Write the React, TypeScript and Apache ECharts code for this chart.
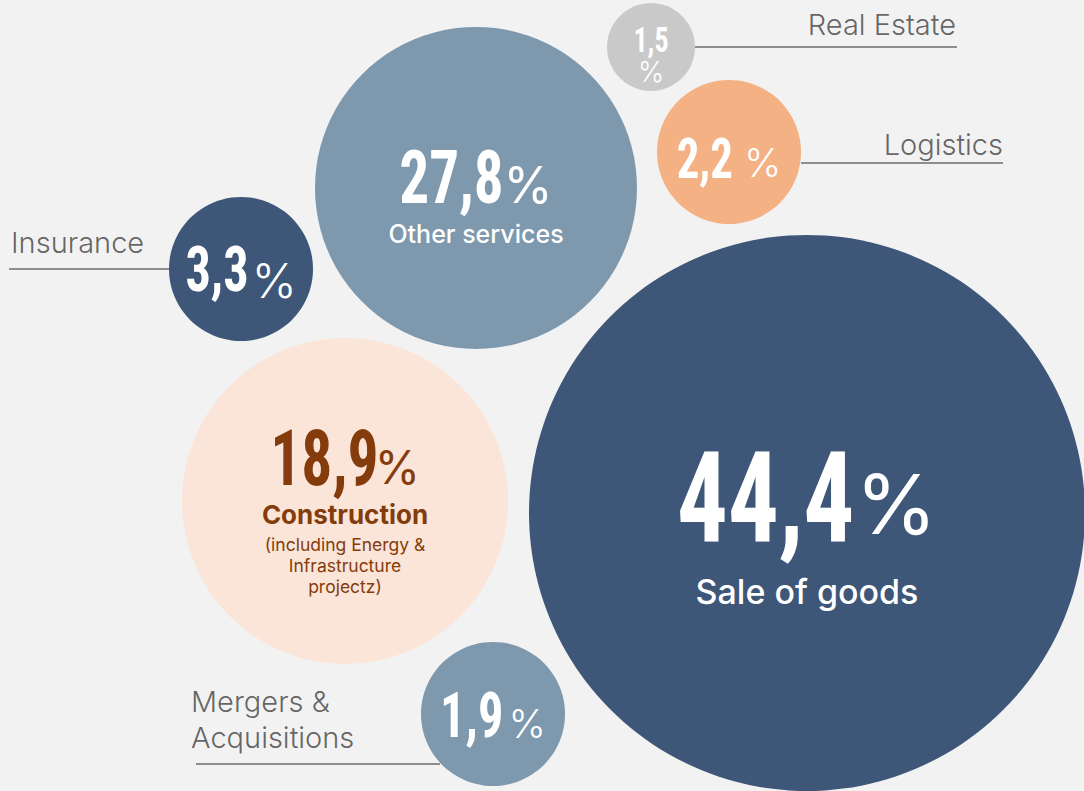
import React, { useEffect, useRef } from "react";
import * as echarts from "echarts";

// ---- data ----
const sectors = ["Sale of goods", "Other services", "Construction", "Insurance", "Logistics", "Real Estate", "Mergers & Acquisitions"];
const shares = [44.4, 27.8, 18.9, 3.3, 2.2, 1.5, 1.9];
const bubbleX = [807, 476, 345, 241, 729, 651, 493];
const bubbleY = [513, 188, 501, 269, 152, 47, 714];
const bubbleDiameter = [556, 322, 326, 144, 144, 88, 144];
const bubbleColors = ["#3E5779", "#7E98AE", "#FBE5D8", "#3E5779", "#F4B183", "#C9C9C9", "#7E98AE"];

// leader lines
const leaderStartX = [695, 801, 9, 196];
const leaderEndX = [957, 1003, 169, 440];
const leaderY = [47, 163, 269, 764];

// outer labels
const outerLabels = ["Real Estate", "Logistics", "Insurance", "Mergers &\nAcquisitions"];
const outerLabelX = [956, 1003, 11, 191];
const outerLabelY = [24, 144, 242, 719];
const outerLabelAlign = ["right", "right", "left", "left"];

// inner sub-captions
const constructionNote = ["(including Energy &", "Infrastructure", "projectz)"];

const NUM_FONT = '"Roboto Condensed"';
const TXT_FONT = "Inter";
const NUM_SCALE = 0.8;

const fmt = (v: number) => v.toFixed(1).replace(".", ",");

const measure = (text: string, font: string) => {
  const t = new (echarts.graphic as any).Text({ style: { text, font } });
  return t.getBoundingRect().width;
};

type Spec = {
  color: string;
  num: number; numDy: number;
  pct: number; pctDy: number; pctWeight: number; gap: number; stacked?: boolean;
  lines: { text: string; size: number; weight: number; dy: number }[];
};

const specs: Spec[] = [
  { color: "#fff", num: 126, numDy: -15, pct: 83, pctDy: -9, pctWeight: 400, gap: 1,
    lines: [{ text: sectors[0], size: 34, weight: 500, dy: 78 }] },
  { color: "#fff", num: 74, numDy: -10, pct: 50, pctDy: -3, pctWeight: 400, gap: 0,
    lines: [{ text: sectors[1], size: 25, weight: 500, dy: 46 }] },
  { color: "#843C0C", num: 77, numDy: -43, pct: 46, pctDy: -34, pctWeight: 400, gap: -4,
    lines: [
      { text: sectors[2], size: 26, weight: 700, dy: 13 },
      { text: constructionNote[0], size: 17.5, weight: 400, dy: 43 },
      { text: constructionNote[1], size: 17.5, weight: 400, dy: 64 },
      { text: constructionNote[2], size: 17.5, weight: 400, dy: 85 },
    ] },
  { color: "#fff", num: 63, numDy: 0, pct: 48, pctDy: 11, pctWeight: 300, gap: 3, lines: [] },
  { color: "#fff", num: 56, numDy: 7, pct: 40, pctDy: 10, pctWeight: 300, gap: 11, lines: [] },
  { color: "#fff", num: 35, numDy: -7, pct: 28, pctDy: 25, pctWeight: 300, gap: 0, stacked: true, lines: [] },
  { color: "#fff", num: 63, numDy: 1, pct: 40, pctDy: 9, pctWeight: 300, gap: 5, lines: [] },
];

export default function App() {
  const ref = useRef<HTMLDivElement>(null);
  useEffect(() => {
    document.body.style.margin = "0";
    const chart = echarts.init(ref.current!, undefined, { renderer: "svg" });

    const bubbleData = sectors.map((name, i) => ({
      name,
      value: [bubbleX[i], bubbleY[i], shares[i]],
      symbolSize: bubbleDiameter[i],
      itemStyle: { color: bubbleColors[i], opacity: 1 },
    }));

    const leaderData = leaderY.map((y, i) => ({
      coords: [
        [leaderStartX[i], y],
        [leaderEndX[i], y],
      ],
    }));

    const outerData = outerLabels.map((t, i) => ({
      name: t,
      value: [outerLabelX[i], outerLabelY[i]],
      label: {
        show: true,
        position: [0, 0],
        align: outerLabelAlign[i],
        verticalAlign: "middle",
        formatter: t,
        fontFamily: TXT_FONT,
        fontWeight: 300,
        fontSize: 29,
        lineHeight: 36,
        color: "#3f3f3f",
      },
    }));

    const renderItem = (params: any, api: any) => {
      const i = params.dataIndex;
      const s = specs[i];
      const [cx, cy] = api.coord([api.value(0), api.value(1)]);
      const numText = fmt(api.value(2));
      const numFont = `bold ${s.num}px ${NUM_FONT}`;
      const pctFont = `${s.pctWeight} ${s.pct}px ${TXT_FONT}`;
      const wNum = measure(numText, numFont) * NUM_SCALE;
      const wPct = measure("%", pctFont);
      const children: any[] = [];
      if (s.stacked) {
        children.push({
          type: "text", x: cx - wNum / 2, y: cy + s.numDy, scaleX: NUM_SCALE,
          style: { text: numText, font: numFont, fill: s.color, align: "left", verticalAlign: "middle" },
        });
        children.push({
          type: "text", x: cx, y: cy + s.pctDy,
          style: { text: "%", font: pctFont, fill: s.color, align: "center", verticalAlign: "middle" },
        });
      } else {
        const total = wNum + s.gap + wPct;
        const x0 = cx - total / 2;
        children.push({
          type: "text", x: x0, y: cy + s.numDy, scaleX: NUM_SCALE,
          style: { text: numText, font: numFont, fill: s.color, align: "left", verticalAlign: "middle" },
        });
        children.push({
          type: "text", x: x0 + wNum + s.gap, y: cy + s.pctDy,
          style: { text: "%", font: pctFont, fill: s.color, align: "left", verticalAlign: "middle" },
        });
      }
      s.lines.forEach((l) => {
        children.push({
          type: "text", x: cx, y: cy + l.dy,
          style: { text: l.text, font: `${l.weight} ${l.size}px ${TXT_FONT}`, fill: s.color, align: "center", verticalAlign: "middle" },
        });
      });
      return { type: "group", children };
    };

    chart.setOption({
      animation: false,
      backgroundColor: "#F2F2F2",
      grid: { left: 0, right: 0, top: 0, bottom: 0 },
      xAxis: { type: "value", min: 0, max: 1084, show: false },
      yAxis: { type: "value", min: 0, max: 791, inverse: true, show: false },
      series: [
        {
          type: "lines",
          coordinateSystem: "cartesian2d",
          z: 1,
          lineStyle: { color: "#8E8E8E", width: 2, opacity: 1 },
          data: leaderData,
          silent: true,
        },
        {
          type: "scatter",
          z: 2,
          symbol: "circle",
          data: bubbleData,
          silent: true,
        },
        {
          type: "custom",
          z: 3,
          coordinateSystem: "cartesian2d",
          renderItem,
          data: sectors.map((_, i) => [bubbleX[i], bubbleY[i], shares[i]]),
          silent: true,
        },
        {
          type: "scatter",
          z: 3,
          symbolSize: 0,
          data: outerData,
          silent: true,
        },
      ],
    });
    return () => chart.dispose();
  }, []);
  return <div ref={ref} style={{ width: 1084, height: 791 }} />;
}
